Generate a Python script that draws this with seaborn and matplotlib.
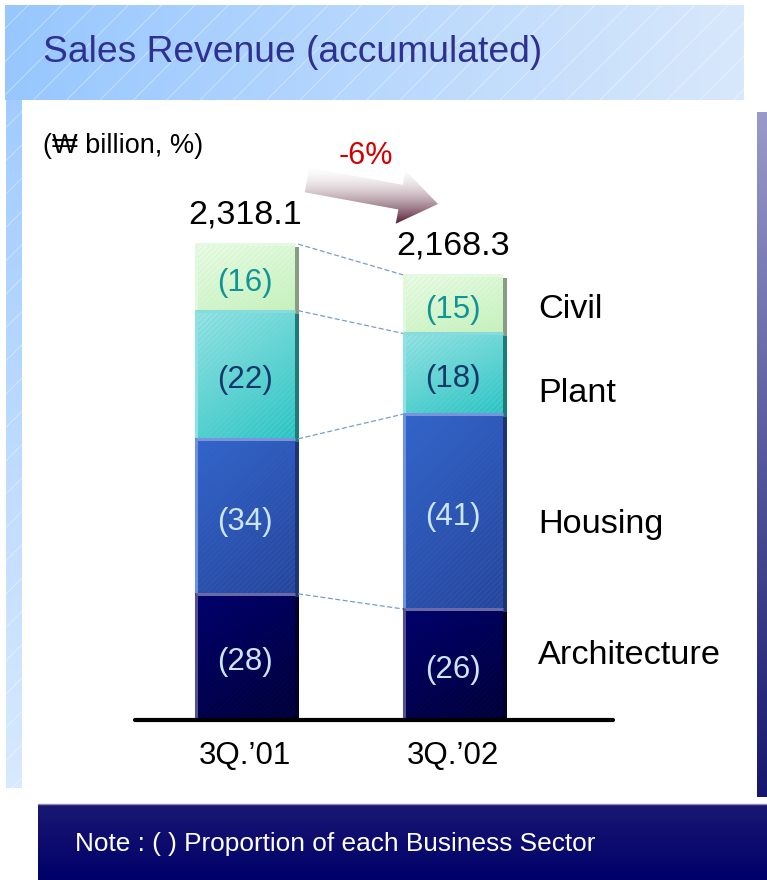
import numpy as np
import pandas as pd
import matplotlib
matplotlib.use("Agg")
import matplotlib.pyplot as plt
import seaborn as sns
from matplotlib.colors import to_rgb
from matplotlib.patches import Rectangle, Polygon
from matplotlib import transforms

# ---------------- data ----------------
periods = ["3Q.\u201901", "3Q.\u201902"]
sectors = ["Architecture", "Housing", "Plant", "Civil"]          # bottom -> top
architecture = [614.6, 540.8]
housing = [755.0, 949.0]
plant = [624.3, 393.3]
civil = [324.2, 285.2]
totals = [2318.1, 2168.3]
total_labels = ["2,318.1", "2,168.3"]
share_architecture = [28, 26]
share_housing = [34, 41]
share_plant = [22, 18]
share_civil = [16, 15]
change_label = "-6%"
unit_label = "(\u20a9 billion, %)"
title = "Sales Revenue (accumulated)"
note = "Note : ( ) Proportion of each Business Sector"

values = {"Architecture": architecture, "Housing": housing, "Plant": plant, "Civil": civil}
shares = {"Architecture": share_architecture, "Housing": share_housing,
          "Plant": share_plant, "Civil": share_civil}

rows = []
for i, p in enumerate(periods):
    cum = 0.0
    for s in sectors:
        v = values[s][i]
        rows.append(dict(period=p, sector=s, value=v, share=shares[s][i],
                         bottom=cum, top=cum + v))
        cum += v
df = pd.DataFrame(rows)

# ---------------- style ----------------
sns.set_theme(style="white")
plt.rcParams["font.family"] = ["Liberation Sans", "DejaVu Sans"]
plt.rcParams["hatch.linewidth"] = 0.6

W, H = 767, 880
fig = plt.figure(figsize=(W / 100, H / 100), dpi=100, facecolor="white")

bg = fig.add_axes([0, 0, 1, 1], zorder=0)
bg.axis("off")


def lin(c0, c1, t):
    c0 = np.array(to_rgb(c0)); c1 = np.array(to_rgb(c1))
    return c0[None, :] * (1 - t[..., None]) + c1[None, :] * t[..., None]


def grad_rect(ax, x0, y0, x1, y1, c0, c1, vertical=True, zorder=0, gamma=1.0, clip=None):
    t = np.linspace(0, 1, 200) ** gamma
    if vertical:
        img = lin(c0, c1, t)[:, None, :].repeat(2, axis=1)
    else:
        img = lin(c0, c1, t)[None, :, :].repeat(2, axis=0)
    im = ax.imshow(img, extent=(x0, x1, y1, y0), origin="upper", aspect="auto",
                   zorder=zorder, interpolation="bilinear")
    if clip is not None:
        im.set_clip_path(clip)
    return im


# title banner + left strip
grad_rect(bg, 5, 5, 744, 100, "#97c7ff", "#d8e8fb", vertical=False, zorder=1)
grad_rect(bg, 6, 100, 22, 788, "#a2ccff", "#d8e9ff", vertical=True, zorder=1)
for (x0, y0, x1, y1) in [(5, 5, 744, 100), (6, 100, 22, 788)]:
    bg.add_patch(Rectangle((x0, y0), x1 - x0, y1 - y0, fill=False, lw=0,
                           hatch="/", edgecolor=(1, 1, 1, 0.45), zorder=2))
# right dark strip
grad_rect(bg, 757, 112, 767, 797, "#9a9aca", "#16166e", vertical=True, zorder=1)
# note bar
grad_rect(bg, 38, 804, 767, 880, "#1a1872", "#00006a", vertical=True, zorder=1)
bg.plot([38, 767], [804.5, 804.5], color="#8c8cbc", lw=1, zorder=2)

bg.text(43, 53, title, fontsize=26.8, color="#2e3192", ha="left", va="center", zorder=5)
bg.text(43, 146, unit_label, fontsize=19.5, color="black", ha="left", va="center", zorder=5)
bg.text(75, 844, note, fontsize=18.9, color="white", ha="left", va="center", zorder=5)

# arrow with gradient
tail = np.array([307.0, 180.0]); tip = np.array([438.0, 204.0])
d = (tip - tail); L = np.hypot(*d); d = d / L
n = np.array([-d[1], d[0]])
h, Hh, hl = 12.5, 27.0, 38.0
loc = [(0, -h), (L - hl, -h), (L - hl, -Hh), (L, 0), (L - hl, Hh), (L - hl, h), (0, h)]
pts = [tail + s * d + t * n for s, t in loc]
arrow = Polygon(pts, closed=True, facecolor="none", edgecolor="none", zorder=3)
bg.add_patch(arrow)
grad_rect(bg, 300, 165, 445, 226, "#ffffff", "#4a0c24", vertical=True, zorder=3,
          gamma=1.8, clip=arrow)
bg.text(366, 156, change_label, fontsize=22, color="#d40000", ha="center", va="center", zorder=5)

# sector labels on the right
label_y = {"Civil": 310, "Plant": 393, "Housing": 524, "Architecture": 656}
for s in sectors:
    bg.text(538, label_y[s], s, fontsize=24.7, color="black", ha="left", va="center", zorder=5)

bg.set_xlim(0, W); bg.set_ylim(H, 0)

# ---------------- bars ----------------
ax = fig.add_axes([135 / W, (H - 720) / H, 478 / W, 620 / H], zorder=1)
ax.patch.set_alpha(0)

BW = 100 / 208
style = {
    "Civil":        dict(base="#d4f6cc", c0="#eafde6", c1="#c4f2bc", hatch="#d2ecca",
                         hl="#e4fae0", left="#e0f8dc", shadow="#879d83", txt="#0f9595"),
    "Plant":        dict(base="#60d0d0", c0="#9ae4e4", c1="#2ac4c4", hatch="#6ad2d2",
                         hl="#86dcdc", left="#90e2e2", shadow="#1f7a7a", txt="#15386a"),
    "Housing":      dict(base="#2c56b4", c0="#3366cc", c1="#27459a", hatch="#3360c0",
                         hl="#7a94dc", left="#7090e0", shadow="#1e3478", txt="#cce6ff"),
    "Architecture": dict(base="#000058", c0="#00006f", c1="#000036", hatch="#06065e",
                         hl="#6a6aa8", left="#505092", shadow="#00002a", txt="#cce6ff"),
}

# stacked bars: draw cumulative tops, top layer first
zbase = {"Civil": 2, "Plant": 4, "Housing": 6, "Architecture": 8}
for s in reversed(sectors):
    sub = df[df.sector == s]
    n0 = len(ax.patches)
    sns.barplot(data=sub, x="period", y="top", order=periods, color=style[s]["base"],
                saturation=1, width=BW, errorbar=None, ax=ax, linewidth=0)
    for p in ax.patches[n0:]:
        p.set_zorder(zbase[s])

shadow_tr = transforms.offset_copy(ax.transData, fig=fig, x=4, y=-3, units="dots")
for _, r in df.iterrows():
    i = periods.index(r.period)
    st = style[r.sector]
    z = zbase[r.sector]
    x0, x1 = i - BW / 2, i + BW / 2
    ax.add_patch(Rectangle((x0, r.bottom), BW, r.value, facecolor=st["shadow"], lw=0,
                           transform=shadow_tr, zorder=1))
    uu, vv = np.meshgrid(np.linspace(0, 1, 60), np.linspace(0, 1, 120))
    img = lin(st["c0"], st["c1"], 0.35 * uu + 0.65 * vv)
    ax.imshow(img, extent=(x0, x1, r.bottom, r.top), origin="upper", aspect="auto",
              zorder=z + 0.1, interpolation="bilinear")
    ax.add_patch(Rectangle((x0, r.bottom), BW, r.value, fill=False, lw=0,
                           hatch="//////", edgecolor=st["hatch"], alpha=0.6, zorder=z + 0.2))
    ax.plot([x0, x1], [r.top, r.top], color=st["hl"], lw=2.2, zorder=z + 0.3,
            solid_capstyle="butt")
    ax.plot([x0 + 0.004, x0 + 0.004], [r.bottom, r.top], color=st["left"], lw=2.2,
            zorder=z + 0.3, solid_capstyle="butt")
    ax.annotate(f"({r.share})", xy=(i, (r.bottom + r.top) / 2), xytext=(0, -4),
                textcoords="offset points", ha="center", va="center", fontsize=22.5,
                color=st["txt"], zorder=20)

# totals above bars
for i, (t, lab) in enumerate(zip(totals, total_labels)):
    ax.annotate(lab, xy=(i, t), xytext=(0, 21), textcoords="offset points",
                ha="center", va="center", fontsize=24.5, color="black", zorder=20,
                annotation_clip=False)

# dashed connectors between segment boundaries
tops = df.pivot(index="sector", columns="period", values="top")
for s in sectors:
    ax.plot([BW / 2 + 0.015, 1 - BW / 2], [tops.loc[s, periods[0]], tops.loc[s, periods[1]]],
            color="#7b9dc9", lw=0.9, ls=(0, (4, 2)), zorder=1.5)

ax.axhline(0, color="black", lw=3, zorder=30, clip_on=False)
ax.set_xlim(-110 / 208, 1 + 160 / 208)
ax.set_ylim(0, 3020)
ax.set_yticks([])
ax.set_xlabel("")
ax.set_ylabel("")
ax.tick_params(axis="x", length=0, pad=15, labelsize=22.5, colors="black")
sns.despine(ax=ax, left=True, bottom=True)

fig.savefig("out.png", dpi=100, facecolor="white")
